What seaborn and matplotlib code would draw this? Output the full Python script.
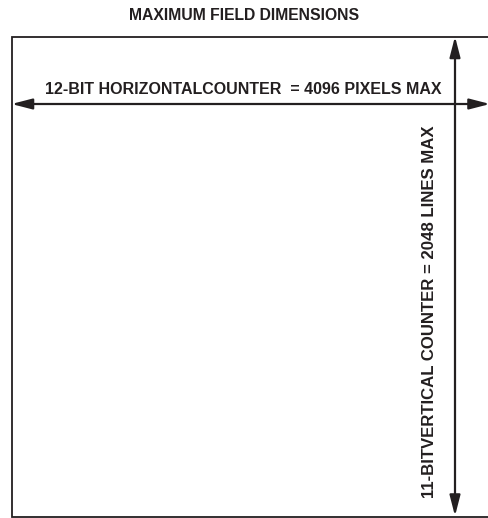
import matplotlib
matplotlib.use("Agg")
import matplotlib.pyplot as plt
import seaborn as sns

# diagram values
title = "MAXIMUM FIELD DIMENSIONS"
h_bits, h_max, h_unit = 12, 4096, "PIXELS"
v_bits, v_max, v_unit = 11, 2048, "LINES"

h_label = f"{h_bits}-BIT HORIZONTALCOUNTER  = {h_max} {h_unit} MAX"
v_label = f"{v_bits}-BITVERTICAL COUNTER = {v_max} {v_unit} MAX"

sns.set_style("white")
plt.rcParams['font.family'] = ['Liberation Sans', 'DejaVu Sans']

W, H = 488, 518
fig = plt.figure(figsize=(W / 100, H / 100), dpi=100)
ax = fig.add_axes([0, 0, 1, 1])
ax.set_xlim(0, W)
ax.set_ylim(H, 0)
ax.axis("off")

ink = "#231f20"
head = "<|-|>,head_length=0.62,head_width=0.16"

# field box (right side runs off the picture)
ax.plot([500, 12, 12, 500], [37, 37, 516.5, 516.5], color=ink, lw=1.3,
        solid_joinstyle="miter")

# horizontal counter arrow
ax.annotate("", xy=(11.5, 104), xytext=(490, 104),
            arrowprops=dict(arrowstyle=head, color=ink, lw=1.6,
                            mutation_scale=20, shrinkA=0, shrinkB=0))
# vertical counter arrow
ax.annotate("", xy=(455, 36.5), xytext=(455, 516),
            arrowprops=dict(arrowstyle=head, color=ink, lw=1.6,
                            mutation_scale=20, shrinkA=0, shrinkB=0))

ax.text(244, 15, title, ha="center", va="center", fontsize=11.3,
        fontweight="bold", color=ink)
ax.text(243, 89, h_label, ha="center", va="center", fontsize=11.5,
        fontweight="bold", color=ink)
ax.text(430, 312, v_label, ha="center", va="center", fontsize=12.1,
        fontweight="bold", color=ink, rotation=90)

fig.savefig("out.png", dpi=100, facecolor="white")
